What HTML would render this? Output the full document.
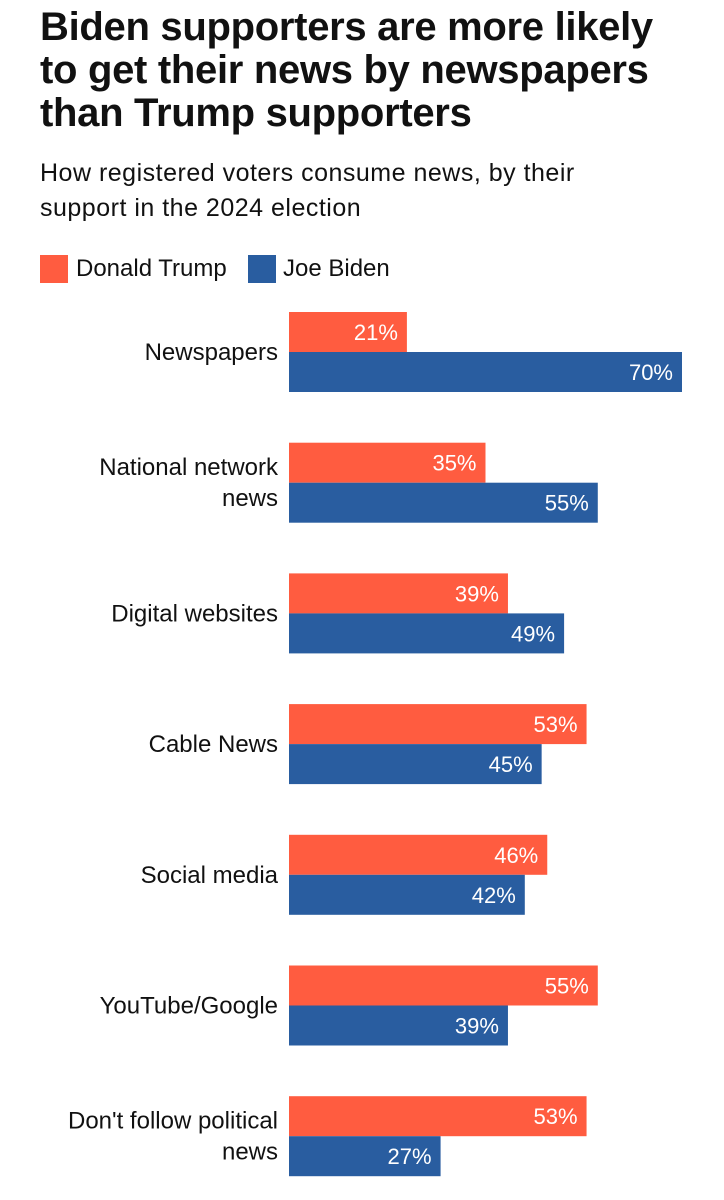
<!DOCTYPE html>
<html><head><meta charset="utf-8">
<style>
body{margin:0;width:724px;height:1200px;background:#fff;font-family:"Liberation Sans",sans-serif;color:#111;overflow:hidden}
#title{position:absolute;left:40px;top:6px;font-size:40px;font-weight:bold;line-height:43px;letter-spacing:-0.3px;white-space:nowrap}
#sub{position:absolute;left:40px;top:156px;font-size:25px;line-height:35px;letter-spacing:0.5px;white-space:nowrap}
.leg{position:absolute;top:255px;font-size:24px;line-height:28px}
.sw{position:absolute;top:255px;width:28px;height:28px}
</style></head><body>
<div id="title">Biden supporters are more likely<br>to get their news by newspapers<br>than Trump supporters</div>
<div id="sub">How registered voters consume news, by their<br>support in the 2024 election</div>
<div class="sw" style="left:40px;background:#FF5C40"></div>
<div class="leg" style="left:76px">Donald Trump</div>
<div class="sw" style="left:248px;background:#295DA0"></div>
<div class="leg" style="left:283px">Joe Biden</div>
<svg id="chart" width="724" height="1200" style="position:absolute;left:0;top:0"></svg>
<script>
const categories=[["Newspapers"],["National network","news"],["Digital websites"],["Cable News"],["Social media"],["YouTube/Google"],["Don't follow political","news"]];
const trump=[21,35,39,53,46,55,53];
const biden=[70,55,49,45,42,39,27];
const NS="http://www.w3.org/2000/svg";
const svg=document.getElementById('chart');
const x0=289,scale=393/70,top0=312,pitch=130.7,bh=40;
function xw(v){return v*scale;}
function mk(tag,attrs){const e=document.createElementNS(NS,tag);for(const k in attrs)e.setAttribute(k,attrs[k]);svg.appendChild(e);return e;}
categories.forEach((c,i)=>{
  const y=top0+i*pitch;
  [[trump[i],'#FF5C40','trump'],[biden[i],'#295DA0','biden']].forEach((s,j)=>{
    const r=mk('rect',{x:x0,y:y+j*bh,width:xw(s[0]),height:bh,fill:s[1]});
    
    
    const t=mk('text',{x:x0+xw(s[0])-9,y:y+j*bh+28,'text-anchor':'end',fill:'#fff','font-size':'22','font-family':'Liberation Sans, sans-serif'});
    t.textContent=s[0]+'%';
    
    
  });
  const cy=y+bh;
  c.forEach((line,k)=>{
    const t=mk('text',{x:278,y:cy+8+(k-(c.length-1)/2)*31,'text-anchor':'end',fill:'#111','font-size':'24','font-family':'Liberation Sans, sans-serif'});
    t.textContent=line;
    
    
  });
});
</script>
</body></html>
